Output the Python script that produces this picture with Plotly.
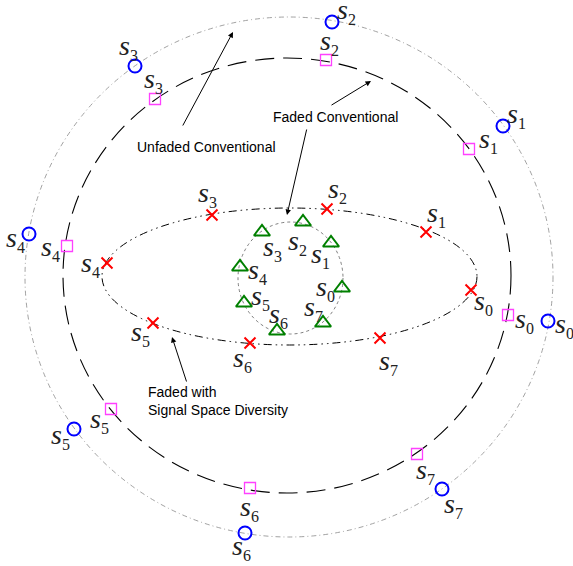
import plotly.graph_objects as go

# ---- constellation data (drawing coordinates, y grows downward) ----
idx = [0, 1, 2, 3, 4, 5, 6, 7]

# Unfaded conventional 8-PSK (blue circles)
unf_x = [548, 503, 332, 135, 29, 74, 245, 442]
unf_y = [321, 126, 22, 66, 234, 429, 533, 489]
unf_lx = [564, 516, 346, 128, 15, 60, 241, 453]
unf_ly = [325, 115, 11, 47, 239, 436, 547, 505]

# Faded conventional (magenta squares)
fc_x = [508, 469, 326, 155, 67, 111, 250, 417]
fc_y = [315, 149, 60, 99, 246, 409, 488, 454]
fc_lx = [524, 488, 329, 153, 50, 99, 249, 425]
fc_ly = [320, 140, 42, 80, 248, 420, 508, 471]

# Faded with signal space diversity (red crosses)
ssd_x = [471, 426, 327, 212, 107, 153, 250, 380]
ssd_y = [290, 232, 209, 215, 263, 323, 343, 338]
ssd_lx = [483, 436, 337, 207, 90, 140, 242, 388]
ssd_ly = [302, 214, 190, 194, 264, 333, 359, 362]

# Inner small constellation (green triangles)
in_x = [342, 331, 303, 262, 240, 244, 277, 323]
in_y = [288, 243, 222, 232, 267, 303, 331, 323]
in_lx = [325, 320, 297, 272, 257, 260, 278, 313]
in_ly = [288, 255, 242, 248, 271, 297, 315, 308]

# Outline curves: (x0, y0, x1, y1) bounding boxes
outer_box = (25, 17, 553, 537)
faded_box = (63, 58, 511, 493)
ssd_box = (102, 208, 477, 345)
inner_box = (238, 222, 343, 334)

fig = go.Figure()

shape_styles = [
    (outer_box, "#8a8a8a", 0.8, "5px,3px,1px,3px"),
    (faded_box, "black", 1.1, "19px,9px"),
    (ssd_box, "black", 1.0, "8px,4px,1.5px,4px,1.5px,4px"),
    (inner_box, "#606060", 0.8, "3px,3px"),
]
for (x0, y0, x1, y1), col, w, dash in shape_styles:
    fig.add_shape(type="circle", xref="x", yref="y", x0=x0, y0=y0, x1=x1, y1=y1,
                  line=dict(color=col, width=w, dash=dash), layer="below")

fig.add_trace(go.Scatter(x=unf_x, y=unf_y, mode="markers",
                         marker=dict(symbol="circle-open", size=13, color="blue",
                                     line=dict(width=2, color="blue"))))
fig.add_trace(go.Scatter(x=fc_x, y=fc_y, mode="markers",
                         marker=dict(symbol="square-open", size=11, color="#ff40ff",
                                     line=dict(width=1.3, color="#ff40ff"))))
fig.add_trace(go.Scatter(x=ssd_x, y=ssd_y, mode="markers",
                         marker=dict(symbol="x-thin-open", size=11, color="red",
                                     line=dict(width=2, color="red"))))
fig.add_trace(go.Scatter(x=in_x, y=in_y, mode="markers",
                         marker=dict(symbol="triangle-up-open", size=14, color="green",
                                     line=dict(width=2, color="green"))))

# symbol labels
for lx_list, ly_list in [(unf_lx, unf_ly), (fc_lx, fc_ly), (ssd_lx, ssd_ly), (in_lx, in_ly)]:
    for k, lx, ly in zip(idx, lx_list, ly_list):
        fig.add_annotation(x=lx, y=ly, xref="x", yref="y", showarrow=False,
                           text=f"<i>s</i><sub><span style='font-size:16px'>{k}</span></sub>",
                           font=dict(family="Liberation Serif", size=28, color="#222"),
                           xanchor="center", yanchor="middle")

sans = dict(family="Liberation Sans", size=14, color="black")

# descriptive text
fig.add_annotation(x=135, y=147, xref="x", yref="y", text="Unfaded Conventional",
                   showarrow=False, xanchor="left", yanchor="middle", font=sans)
fig.add_annotation(x=271, y=117, xref="x", yref="y", text="Faded Conventional",
                   showarrow=False, xanchor="left", yanchor="middle", font=sans)
fig.add_annotation(x=146, y=401, xref="x", yref="y",
                   text="Faded with<br>Signal Space Diversity",
                   showarrow=False, xanchor="left", yanchor="middle", align="left", font=sans)

# pointer arrows: (tail_x, tail_y, head_x, head_y)
arrows = [
    (182, 127, 233, 32),
    (330, 106, 371, 81),
    (307, 128, 287, 215),
    (187, 383, 172, 337),
]
for tx, ty, hx, hy in arrows:
    fig.add_annotation(x=hx, y=hy, ax=tx, ay=ty, xref="x", yref="y", axref="x", ayref="y",
                       text="", showarrow=True, arrowhead=2, arrowsize=1.1,
                       arrowwidth=1, arrowcolor="black")

fig.update_xaxes(range=[0, 573], visible=False, showgrid=False, zeroline=False)
fig.update_yaxes(range=[566, 0], visible=False, showgrid=False, zeroline=False)
fig.update_layout(width=573, height=566, margin=dict(l=0, r=0, t=0, b=0),
                  showlegend=False, plot_bgcolor="white", paper_bgcolor="white")

fig.write_html("out.html")
